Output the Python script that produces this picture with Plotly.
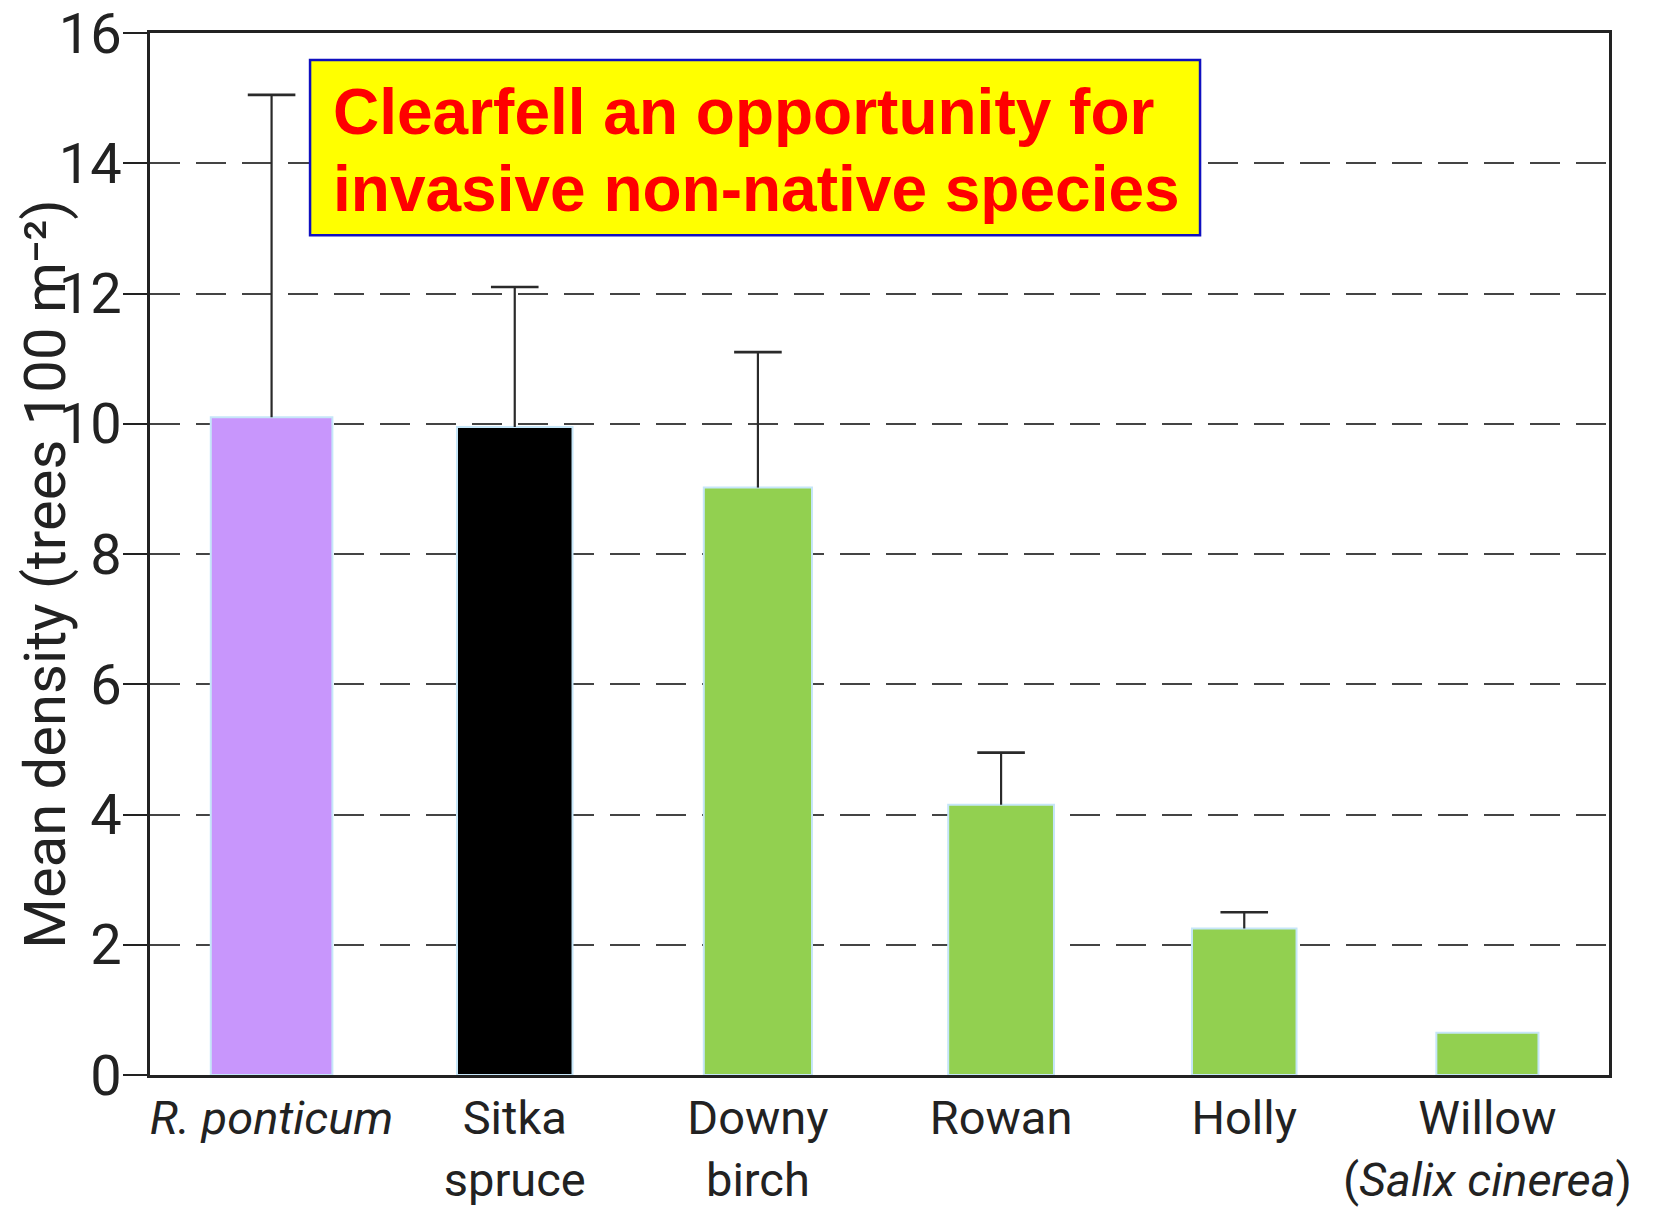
import plotly.graph_objects as go

# Mean tree density after clearfell, by species
species = [
    "<i>R. ponticum</i>",
    "Sitka<br>spruce",
    "Downy<br>birch",
    "Rowan",
    "Holly",
    "Willow<br>(<i>Salix cinerea</i>)",
]
mean_density = [10.1, 9.95, 9.02, 4.15, 2.25, 0.65]
error_upper = [4.95, 2.15, 2.08, 0.8, 0.25, None]
bar_colors = ["#c896fc", "#000000", "#92d050", "#92d050", "#92d050", "#92d050"]

y_ticks = [0, 2, 4, 6, 8, 10, 12, 14, 16]
y_title = "Mean density (trees 100 m⁻²)"
headline = ["Clearfell an opportunity for", "invasive non-native species"]

axis_font = "Roboto, sans-serif"
ink = "#222222"
whisker = "#2a2a2a"

# top of each error whisker, where a cap is drawn
whisker_top = [m + e if e is not None else None for m, e in zip(mean_density, error_upper)]

fig = go.Figure()
fig.add_trace(go.Bar(
    x=species,
    y=mean_density,
    width=[0.5, 0.475, 0.445, 0.435, 0.43, 0.42],
    marker=dict(color=bar_colors, line=dict(color="#c6e6f8", width=2)),
    error_y=dict(type="data", symmetric=False,
                 array=[e if e is not None else 0 for e in error_upper],
                 arrayminus=[0] * len(error_upper),
                 color=whisker, thickness=2.2, width=0),
))
# whisker caps
fig.add_trace(go.Scatter(
    x=species, y=whisker_top, mode="markers",
    marker=dict(symbol="line-ew-open", size=34, color=whisker,
                line=dict(color=whisker, width=2.6)),
    hoverinfo="skip",
))

fig.update_layout(
    width=1660, height=1212,
    margin=dict(l=150, r=51, t=33, b=137),
    paper_bgcolor="white", plot_bgcolor="white",
    showlegend=False,
    font=dict(family=axis_font, color=ink),
)

fig.update_xaxes(
    showline=True, linecolor=ink, linewidth=3, mirror=True,
    tickfont=dict(size=47, color=ink),
    ticks="", showgrid=False, automargin=False,
    ticklabelstandoff=0,
)
fig.update_yaxes(
    range=[0, 16], tickvals=y_ticks,
    showline=True, linecolor=ink, linewidth=3, mirror=True,
    ticks="outside", ticklen=24, tickwidth=2, tickcolor=ink,
    tickfont=dict(size=56, color=ink),
    ticklabeloverflow="allow", ticklabelstandoff=-10,
    showgrid=True, gridcolor="#444444", gridwidth=2, griddash="30px,16px",
    zeroline=False, automargin=False,
)

# y-axis title
fig.add_annotation(
    text=y_title, xref="paper", yref="paper",
    x=-0.072, y=0.481, xanchor="center", yanchor="middle",
    textangle=-90, showarrow=False,
    font=dict(family=axis_font, size=58, color=ink),
)

# headline box
box_x0, box_x1 = 0.1097, 0.7197
box_y0, box_y1 = 0.806, 0.974
fig.add_shape(type="rect", xref="paper", yref="paper",
              x0=box_x0, x1=box_x1, y0=box_y0, y1=box_y1,
              fillcolor="#ffff00", line=dict(color="#1010c0", width=2.5),
              layer="above")
for text, ypos in zip(headline, [0.924, 0.850]):
    fig.add_annotation(
        text=f"<b>{text}</b>", xref="paper", yref="paper",
        x=0.124, y=ypos, xanchor="left", yanchor="middle",
        showarrow=False,
        font=dict(family="Liberation Sans, Arial, sans-serif", size=64, color="#ff0000"),
    )

fig.write_html("out.html")
